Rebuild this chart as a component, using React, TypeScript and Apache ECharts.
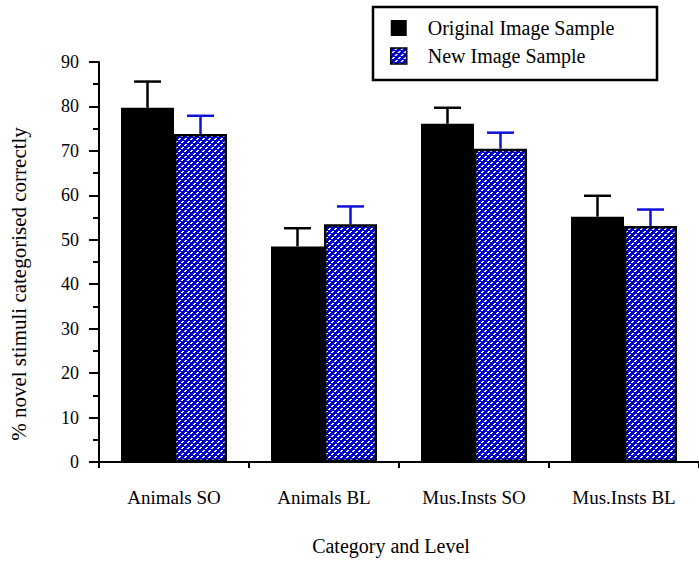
import React, { useEffect, useRef } from "react";
import * as echarts from "echarts";

const categories = ["Animals SO", "Animals BL", "Mus.Insts SO", "Mus.Insts BL"];
const originalValues = [79.7, 48.5, 76.1, 55.2];
const originalErrors = [5.9, 4.1, 3.6, 4.7];
const newValues = [73.8, 53.5, 70.5, 53.1];
const newErrors = [4.1, 4.0, 3.6, 3.7];
const seriesNames = ["Original Image Sample", "New Image Sample"];
const yTicks = { min: 0, max: 90, interval: 10 };

const FONT = "Liberation Serif";
const BLUE = "#0000cc";
const ERR_BLUE = "#1010dd";
const BAR_W = 53;

function makePattern() {
  const size = 6;
  const c = document.createElement("canvas");
  c.width = size;
  c.height = size;
  const ctx = c.getContext("2d")!;
  ctx.fillStyle = BLUE;
  ctx.fillRect(0, 0, size, size);
  ctx.fillStyle = "#ffffff";
  for (let y = 0; y < size; y++) {
    if (y % 3 === 2) continue;
    const x0 = (size - 1 - y + size) % size;
    ctx.fillRect(x0, y, 1, 1);
    ctx.fillRect((x0 + 1) % size, y, 1, 1);
  }
  return {
    image: c.toDataURL(),
    repeat: "repeat",
    imageWidth: size,
    imageHeight: size,
  };
}

function errorSeries(values: number[], errs: number[], offset: number, color: string) {
  return {
    type: "custom",
    z: 4,
    silent: true,
    data: values.map((v, i) => [i, v, errs[i]]),
    encode: { x: 0, y: 1 },
    renderItem: (params: any, api: any) => {
      const idx = api.value(0);
      const val = api.value(1);
      const err = api.value(2);
      const base = api.coord([idx, val]);
      const top = api.coord([idx, val + err]);
      const x = base[0] + offset;
      const half = 13.5;
      const style = { stroke: color, lineWidth: 2.5 };
      return {
        type: "group",
        children: [
          { type: "line", shape: { x1: x, y1: base[1], x2: x, y2: top[1] }, style },
          { type: "line", shape: { x1: x - half, y1: top[1], x2: x + half, y2: top[1] }, style },
        ],
      };
    },
  };
}

export default function App() {
  const ref = useRef<HTMLDivElement>(null);
  useEffect(() => {
    if (!ref.current) return;
    const chart = echarts.init(ref.current, null, { renderer: "svg" });
    const pattern = makePattern();
    chart.setOption({
      animation: false,
      backgroundColor: "#ffffff",
      textStyle: { fontFamily: FONT, color: "#000" },
      grid: { left: 97, top: 62, bottom: 103, right: -6, containLabel: false },
      graphic: [
        {
          type: "rect",
          shape: { x: 373, y: 7, width: 284, height: 73 },
          style: { fill: "#fff", stroke: "#000", lineWidth: 2.5 },
          z: 0,
        },
      ],
      legend: {
        orient: "vertical",
        left: 390,
        top: 18,
        padding: 0,
        itemWidth: 16,
        itemHeight: 16,
        itemGap: 8,
        icon: "rect",
        z: 10,
        textStyle: { fontFamily: FONT, fontSize: 20, color: "#000", padding: [0, 0, 0, 16] },
        data: [
          { name: seriesNames[0], itemStyle: { color: "#000", borderWidth: 0 } },
          { name: seriesNames[1], itemStyle: { color: pattern, borderColor: "#000", borderWidth: 1.5 } },
        ],
      },
      xAxis: {
        type: "category",
        data: categories,
        name: "Category and Level",
        nameLocation: "middle",
        nameGap: 74,
        nameTextStyle: { fontFamily: FONT, fontSize: 20, color: "#000", padding: [0, 16, 0, 0] },
        axisLine: { lineStyle: { color: "#000", width: 2 } },
        axisTick: { show: true, length: 6, lineStyle: { color: "#000", width: 2 } },
        axisLabel: { fontFamily: FONT, fontSize: 19, color: "#000", margin: 26 },
        splitLine: { show: false },
      },
      yAxis: {
        type: "value",
        min: yTicks.min,
        max: yTicks.max,
        interval: yTicks.interval,
        name: "% novel stimuli categorised correctly",
        nameLocation: "middle",
        nameGap: 70,
        nameTextStyle: { fontFamily: FONT, fontSize: 21, color: "#000", padding: [0, 0, 0, -44] },
        axisLine: { show: true, lineStyle: { color: "#000", width: 2 } },
        axisTick: { show: true, length: 10, lineStyle: { color: "#000", width: 2 } },
        minorTick: { show: true, splitNumber: 2, length: 6, lineStyle: { color: "#000", width: 2 } },
        axisLabel: { fontFamily: FONT, fontSize: 18, color: "#000", margin: 20 },
        splitLine: { show: false },
      },
      series: [
        {
          name: seriesNames[0],
          type: "bar",
          barWidth: BAR_W,
          barGap: "0%",
          data: originalValues,
          itemStyle: { color: "#000" },
          z: 2,
        },
        {
          name: seriesNames[1],
          type: "bar",
          barWidth: BAR_W,
          barGap: "0%",
          data: newValues,
          itemStyle: { color: pattern, borderColor: "#000", borderWidth: 2.5 },
          z: 2,
        },
        errorSeries(originalValues, originalErrors, -BAR_W / 2, "#000"),
        errorSeries(newValues, newErrors, BAR_W / 2, ERR_BLUE),
      ],
    });
    return () => chart.dispose();
  }, []);
  return (
    <div
      ref={ref}
      style={{ position: "fixed", left: 0, top: 0, width: 699, height: 565 }}
    />
  );
}
